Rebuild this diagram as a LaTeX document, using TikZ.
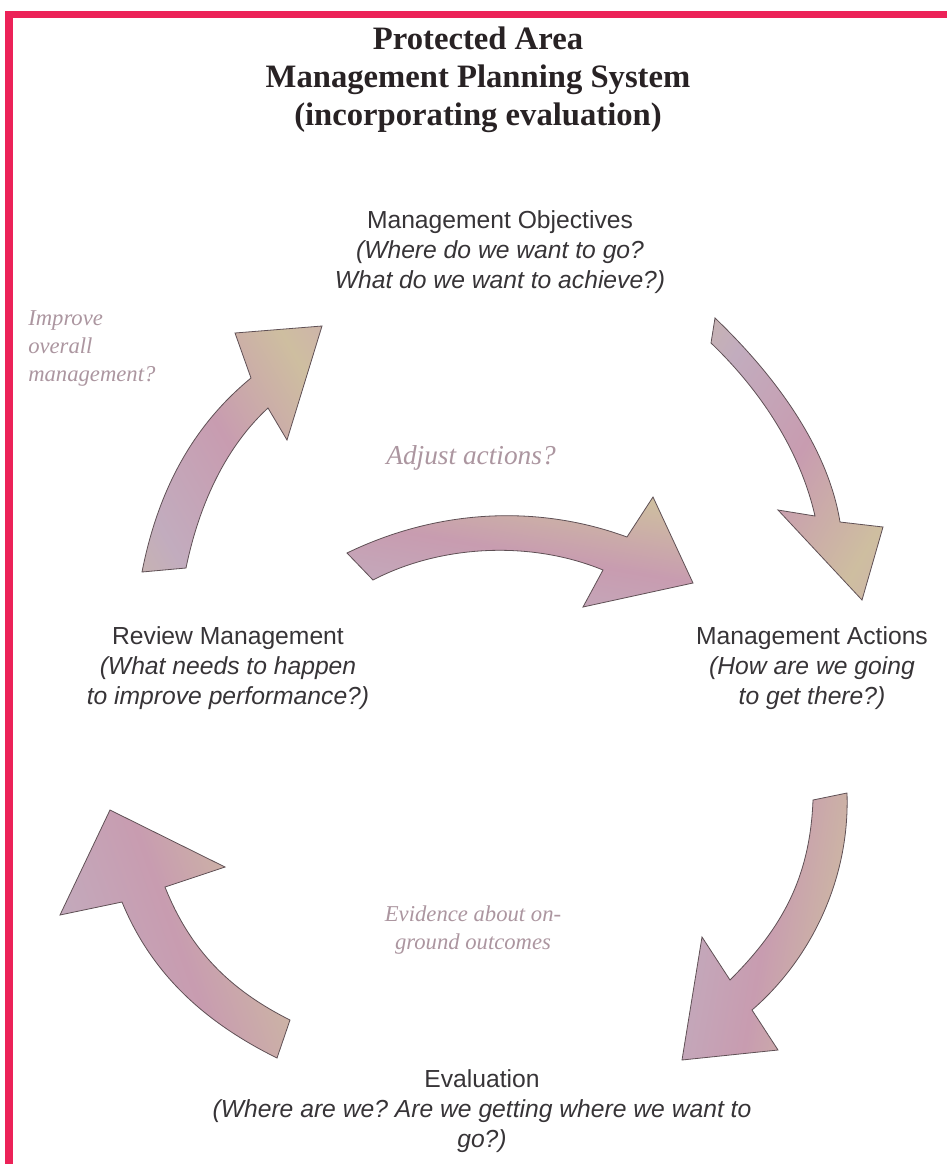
\documentclass[tikz,border=0pt]{standalone}
\usepackage{fontspec}
\setmainfont{Liberation Serif}
\setsansfont{Liberation Sans}
\frenchspacing
\definecolor{framered}{RGB}{236,34,88}
\definecolor{inktext}{RGB}{55,52,55}
\definecolor{titleink}{RGB}{40,34,36}
\definecolor{softlabel}{RGB}{172,150,160}
\definecolor{mpink}{RGB}{204,164,186}
\definecolor{mtan}{RGB}{206,190,160}
\definecolor{mmauve}{RGB}{194,172,190}
\definecolor{mrose}{RGB}{200,156,176}
\definecolor{edge}{RGB}{95,80,85}
\pgfdeclarehorizontalshading{mottle}{100bp}{color(0bp)=(mtan); color(25bp)=(mmauve); color(50bp)=(mrose); color(75bp)=(mtan); color(100bp)=(mpink)}
\begin{document}
\begin{tikzpicture}[x=0.75pt,y=-0.75pt,
  blockarrow/.style={shading=mottle,draw=edge,line width=0.6pt,line join=miter},
  stagetext/.style={font=\sffamily\fontsize{18.5}{22.5}\selectfont,text=inktext,align=center,inner sep=0pt},
  softtext/.style={font=\itshape\fontsize{17}{21}\selectfont,text=softlabel,inner sep=0pt}]
\useasboundingbox (0,0) rectangle (947,1164);
\fill[white] (0,0) rectangle (947,1164);
% frame lines
\fill[framered] (5,11) rectangle (947,18);
\fill[framered] (5,11) rectangle (13,1164);

% title
\node[font=\bfseries\fontsize{24.5}{28.5}\selectfont,text=titleink,align=center,inner sep=0pt] (title) at (478,80)
  {Protected Area\\Management Planning System\\(incorporating evaluation)};

% stages
\node[stagetext] (objectives) at (500,252)
  {Management Objectives\\\textit{(Where do we want to go?}\\\textit{What do we want to achieve?)}};
\node[stagetext] (actions) at (812,668)
  {Management Actions\\\textit{(How are we going}\\\textit{to get there?)}};
\node[stagetext] (review) at (228,668)
  {Review Management\\\textit{(What needs to happen}\\\textit{to improve performance?)}};
\node[stagetext] (evaluation) at (482,1111)
  {Evaluation\\\textit{(Where are we? Are we getting where we want to}\\\textit{go?)}};

% side questions
\node[softtext,align=left,anchor=west] (improve) at (28,348) {Improve\\overall\\management?};
\node[softtext,font=\itshape\fontsize{20.5}{24}\selectfont] (adjust) at (471,458) {Adjust actions?};
\node[softtext,align=center] (evidence) at (473,930) {Evidence about on-\\ground outcomes};

% review -> objectives
\path[blockarrow,shading angle=30] (142,572) .. controls (160,480) and (200,420) .. (251,378)
  -- (235,333) -- (322,326) -- (287,440) -- (268,408)
  .. controls (228,445) and (200,500) .. (186,568) -- cycle;
% objectives -> actions
\path[blockarrow,shading angle=-30] (715,318) .. controls (790,390) and (830,460) .. (840,522)
  -- (883,527) -- (862,600) -- (778,510) -- (815,516)
  .. controls (800,450) and (760,390) .. (711,343) -- cycle;
% review -> actions (adjust)
\path[blockarrow,shading angle=80] (347,553) .. controls (440,508) and (540,505) .. (627,537)
  -- (653,497) -- (693,583) -- (583,607) -- (603,570)
  .. controls (530,540) and (440,545) .. (373,580) -- cycle;
% actions -> evaluation
\path[blockarrow,shading angle=-10] (847,793) .. controls (850,880) and (810,960) .. (752,1010)
  -- (778,1050) -- (682,1060) -- (702,937) -- (730,980)
  .. controls (780,930) and (810,880) .. (813,800) -- cycle;
% evaluation -> review
\path[blockarrow,shading angle=20] (277,1058) .. controls (200,1020) and (150,970) .. (122,902)
  -- (60,915) -- (110,810) -- (225,867) -- (165,887)
  .. controls (190,950) and (230,990) .. (290,1020) -- cycle;
\end{tikzpicture}
\end{document}
